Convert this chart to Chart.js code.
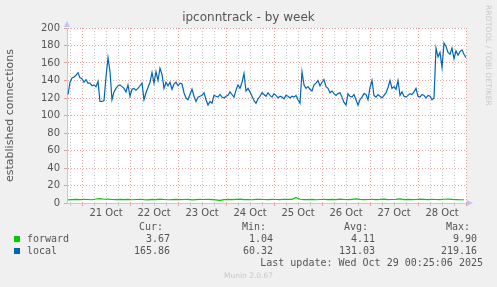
<!DOCTYPE html>
<html>
<head>
<meta charset="utf-8">
<script src="https://cdn.jsdelivr.net/npm/chart.js@4/dist/chart.umd.min.js"></script>
<style>
  body { margin: 0; background: #f0f0f0; width: 497px; height: 287px; overflow: hidden; position: relative; font-family: "DejaVu Sans", sans-serif; }
  #wrap { position: absolute; left: 0; top: 0; width: 497px; height: 287px; }
  .t { position: absolute; white-space: pre; color: #555; }
  .mono { font-family: "DejaVu Sans Mono", monospace; font-size: 10px; line-height: 12px; }
  .r { text-align: right; }
  .sq { position: absolute; width: 6px; height: 6px; }
  #title { left: 0; width: 497px; top: 10px; text-align: center; font-size: 12px; }
  #rrd { left: 484px; top: 5px; writing-mode: vertical-rl; font-size: 7.5px; color: #c8c8c8; letter-spacing: 0.2px; }
  #munin { left: 0; width: 497px; top: 271px; text-align: center; font-size: 7.5px; color: #c8c8c8; }
</style>
</head>
<body>
<div id="wrap"><canvas id="chart" width="497" height="287"></canvas></div>
<div class="t" id="title">ipconntrack - by week</div>
<div class="t" id="rrd">RRDTOOL / TOBI OETIKER</div>
<div class="t" id="munin">Munin 2.0.67</div>
<div id="legend"></div>
<script>
// x axis: hours after the first midnight grid line, one day label per noon
var dayLabels = ["21 Oct", "22 Oct", "23 Oct", "24 Oct", "25 Oct", "26 Oct", "27 Oct", "28 Oct"];
var xMin = -7.5, xMax = 192;

// local: one sample per hour, starting at hour -7
var localStart = -7, localStep = 1;
var localValues = [
  124,138,143,144,146,149,143,142,138,141,
  137,137,134,135,133,139,116,116,117,144,
  166,150,118,127,131,134,135,133,131,127,
  135,122,130,131,129,131,134,137,118,126,
  132,138,149,137,150,140,154,147,131,138,
  134,138,130,136,138,134,137,136,126,120,
  118,124,130,122,116,121,122,123,126,118,
  112,116,114,123,122,121,124,121,120,122,
  123,127,124,121,129,135,131,138,148,128,
  131,127,122,117,114,119,122,126,124,122,
  126,123,121,125,123,120,122,121,119,123,
  122,120,122,121,123,118,114,150,135,131,
  133,130,128,135,137,140,134,138,141,133,
  131,126,128,125,123,125,126,121,115,112,
  125,122,121,124,118,112,118,121,125,124,
  118,132,140,123,121,124,122,120,123,126,
  132,140,131,133,130,140,123,127,122,121,
  123,125,124,127,131,122,121,124,123,120,
  123,122,118,120,177,167,172,155,183,179,
  172,170,177,165,174,169,173,175,170,166
];

// forward: one sample every two hours, starting at hour -7
var forwardStart = -7, forwardStep = 2;
var forwardValues = [
  3.6,3.9,4.1,3.8,4.2,4.0,3.7,4.6,5.1,4.3,
  4.4,4.0,3.8,4.1,3.9,4.2,3.7,4.0,4.3,3.8,
  3.6,4.1,3.9,4.4,4.0,3.7,3.9,4.2,3.8,4.0,
  4.1,3.6,3.9,4.3,4.0,4.2,3.8,3.5,2.9,3.8,
  4.1,3.9,4.2,4.4,3.9,4.0,3.7,4.1,4.3,4.0,
  3.8,4.2,4.0,3.9,4.3,4.1,4.2,6.4,4.3,3.8,
  3.9,4.2,3.7,4.0,4.3,3.9,4.1,3.8,4.4,4.0,
  3.9,4.2,4.6,4.1,3.8,4.0,4.3,3.9,4.1,4.5,
  3.8,4.0,4.2,4.7,3.9,4.1,3.8,4.0,4.4,4.1,
  3.9,4.2,4.0,3.8,4.3,4.5,4.1,3.9,3.7,3.7
];

var seriesNames = ["forward", "local"];
var seriesColors = ["#00cc00", "#0066b3"];
var statHeaders = ["Cur:", "Min:", "Avg:", "Max:"];
var forwardStats = ["3.67", "1.04", "4.11", "9.90"];
var localStats = ["165.86", "60.32", "131.03", "219.16"];
var lastUpdate = "Last update: Wed Oct 29 00:25:06 2025";

function toPoints(start, step, values) {
  return values.map(function (v, i) { return { x: start + i * step, y: v }; });
}

// legend block below the chart
(function () {
  var legend = document.getElementById("legend");
  var headRight = [163, 266, 368, 470];
  var valRight = [170, 273, 375, 477];
  function text(str, x, y, right) {
    var d = document.createElement("div");
    d.className = "t mono" + (right ? " r" : "");
    d.textContent = str;
    d.style.top = y + "px";
    if (right) { d.style.right = (497 - x) + "px"; } else { d.style.left = x + "px"; }
    legend.appendChild(d);
  }
  statHeaders.forEach(function (h, i) { text(h, headRight[i], 221, true); });
  [forwardStats, localStats].forEach(function (stats, row) {
    var y = 233 + row * 12;
    var sq = document.createElement("div");
    sq.className = "sq";
    sq.style.left = "14px";
    sq.style.top = (y + 3) + "px";
    sq.style.background = seriesColors[row];
    legend.appendChild(sq);
    text(seriesNames[row], 27, y, false);
    stats.forEach(function (s, i) { text(s, valRight[i], y, true); });
  });
  text(lastUpdate, 483, 257, true);
})();

var axisColor = "#c4c4f4";
var majorGrid = "rgba(225,90,90,0.55)";
var minorGrid = "#c8c8c8";

var arrows = {
  id: "arrows",
  afterDraw: function (chart) {
    var a = chart.chartArea, ctx = chart.ctx;
    ctx.save();
    ctx.fillStyle = axisColor;
    ctx.beginPath();
    ctx.moveTo(a.left, a.top - 7);
    ctx.lineTo(a.left - 3, a.top - 1);
    ctx.lineTo(a.left + 3, a.top - 1);
    ctx.closePath();
    ctx.fill();
    ctx.beginPath();
    ctx.moveTo(a.right + 7, a.bottom);
    ctx.lineTo(a.right + 1, a.bottom - 3);
    ctx.lineTo(a.right + 1, a.bottom + 3);
    ctx.closePath();
    ctx.fill();
    ctx.restore();
  }
};

var plotBg = {
  id: "plotBg",
  beforeDraw: function (chart) {
    var a = chart.chartArea, ctx = chart.ctx;
    ctx.save();
    ctx.fillStyle = "#ffffff";
    ctx.fillRect(a.left, a.top, a.right - a.left, a.bottom - a.top);
    ctx.restore();
  }
};

new Chart(document.getElementById("chart"), {
  type: "line",
  data: {
    datasets: [{
      label: "forward",
      data: toPoints(forwardStart, forwardStep, forwardValues),
      borderColor: seriesColors[0],
      borderWidth: 1.2,
      pointRadius: 0,
      fill: false
    }, {
      label: "local",
      data: toPoints(localStart, localStep, localValues),
      borderColor: seriesColors[1],
      borderWidth: 1.2,
      pointRadius: 0,
      fill: false
    }]
  },
  plugins: [plotBg, arrows],
  options: {
    responsive: false,
    animation: false,
    layout: { padding: { top: 28, right: 31, bottom: 64, left: 0 } },
    plugins: { legend: { display: false }, title: { display: false }, tooltip: { enabled: false } },
    scales: {
      x: {
        type: "linear",
        min: xMin,
        max: xMax,
        afterFit: function (s) { s.height = 20; },
        afterBuildTicks: function (s) {
          var t = [];
          for (var v = -6; v <= xMax; v += 6) t.push({ value: v });
          s.ticks = t;
        },
        grid: {
          color: function (c) { return c.tick && c.tick.value % 24 === 0 ? majorGrid : minorGrid; },
          tickLength: 3,
          lineWidth: 1
        },
        border: { color: axisColor, width: 1, dash: [1, 2] },
        ticks: {
          autoSkip: false,
          maxRotation: 0,
          padding: 1,
          color: "#555",
          font: { family: "DejaVu Sans", size: 10 },
          callback: function (v) { return (v % 24 === 12) ? dayLabels[(v - 12) / 24] : ""; }
        }
      },
      y: {
        min: 0,
        max: 200,
        afterFit: function (s) { s.width = 67; },
        grid: {
          color: function (c) { return c.tick && c.tick.value % 20 === 0 ? majorGrid : minorGrid; },
          tickLength: 3,
          lineWidth: 1
        },
        border: { color: axisColor, width: 1, dash: [1, 2] },
        ticks: {
          stepSize: 10,
          padding: 4,
          color: "#555",
          font: { family: "DejaVu Sans", size: 10 },
          callback: function (v) { return v % 20 === 0 ? v : ""; }
        },
        title: {
          display: true,
          text: "established connections",
          color: "#555",
          font: { family: "DejaVu Sans", size: 11 },
          padding: { top: 4, bottom: 4 }
        }
      }
    }
  }
});
</script>
</body>
</html>
